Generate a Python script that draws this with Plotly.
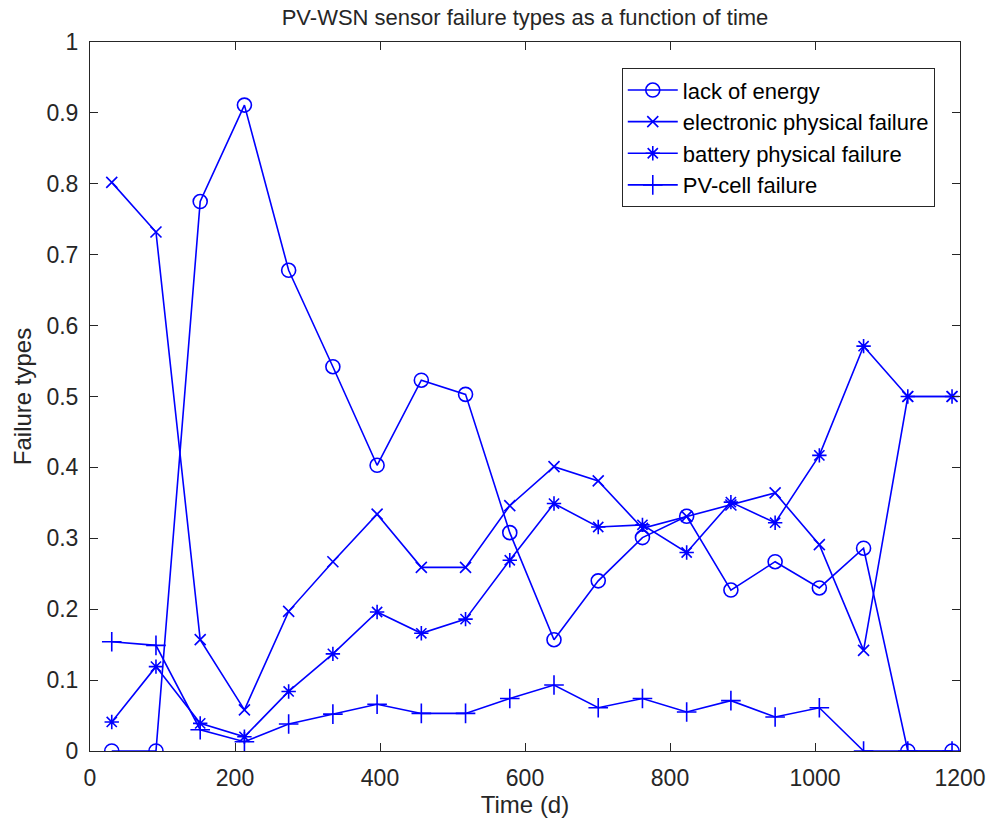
import plotly.graph_objects as go

time_d = [30, 91, 152, 213, 274, 335, 396, 457, 518, 579, 640, 701, 762, 823, 884, 945, 1006, 1067, 1128, 1189]

lack_of_energy = [0, 0, 0.775, 0.911, 0.678, 0.542, 0.403, 0.523, 0.503, 0.308, 0.157, 0.240, 0.301, 0.331, 0.227, 0.267, 0.230, 0.286, 0, 0]
electronic_failure = [0.802, 0.732, 0.157, 0.058, 0.197, 0.267, 0.334, 0.259, 0.259, 0.346, 0.401, 0.381, 0.314, 0.331, 0.347, 0.364, 0.291, 0.142, 0.5, 0.5]
battery_failure = [0.041, 0.119, 0.039, 0.020, 0.084, 0.137, 0.196, 0.166, 0.186, 0.269, 0.349, 0.316, 0.319, 0.280, 0.351, 0.322, 0.417, 0.571, 0.5, 0.5]
pv_cell_failure = [0.154, 0.149, 0.030, 0.013, 0.038, 0.052, 0.066, 0.053, 0.053, 0.074, 0.093, 0.061, 0.074, 0.055, 0.071, 0.048, 0.061, 0, 0, 0]

x_ticks = [0, 200, 400, 600, 800, 1000, 1200]
y_ticks = [0, 0.1, 0.2, 0.3, 0.4, 0.5, 0.6, 0.7, 0.8, 0.9, 1]
y_tick_labels = ["0", "0.1", "0.2", "0.3", "0.4", "0.5", "0.6", "0.7", "0.8", "0.9", "1"]

series = [
    ("lack of energy", lack_of_energy, "circle-open", 14),
    ("electronic physical failure", electronic_failure, "x-thin-open", 11),
    ("battery physical failure", battery_failure, "asterisk-open", 12),
    ("PV-cell failure", pv_cell_failure, "cross-thin-open", 14),
]

FONT = "Liberation Sans, Arial, sans-serif"
BLUE = "#0000FF"
AX = "#262626"

fig = go.Figure()
for name, vals, sym, sz in series:
    fig.add_trace(go.Scatter(
        x=time_d, y=vals, name=name, mode="lines+markers",
        line=dict(color=BLUE, width=1.6),
        marker=dict(symbol=sym, size=sz, color=BLUE, line=dict(color=BLUE, width=1.6)),
    ))

axis_common = dict(
    showline=True, linecolor=AX, linewidth=1, mirror="ticks", automargin=False,
    ticks="inside", ticklen=8, tickcolor=AX, showgrid=False, zeroline=False,
    tickfont=dict(family=FONT, size=23, color=AX),
    title_font=dict(family=FONT, size=24, color=AX),
)

fig.update_layout(
    width=991, height=825,
    paper_bgcolor="white", plot_bgcolor="white",
    margin=dict(l=90, r=31, t=42, b=74),
    title=dict(text="PV-WSN sensor failure types as a function of time",
               x=0.5, xanchor="center", xref="paper", y=0.988, yanchor="top",
               pad=dict(t=0, b=0),
               font=dict(family=FONT, size=22, color=AX)),
    xaxis=dict(range=[0, 1200], tickvals=x_ticks, ticklabelstandoff=6,
               title=dict(text="Time (d)", standoff=5), **axis_common),
    yaxis=dict(range=[0, 1], tickvals=y_ticks, ticktext=y_tick_labels, ticklabelstandoff=6,
               title=dict(text="Failure types", standoff=8), **axis_common),
    legend=dict(x=0.971, y=0.963, xanchor="right", yanchor="top",
                bgcolor="white", bordercolor=AX, borderwidth=1,
                font=dict(family=FONT, size=22, color="#000000"),
                tracegroupgap=0, itemwidth=50),
    showlegend=True,
    hovermode=False,
)

page_fix = (
    "document.documentElement.style.overflow='hidden';"
    "document.body.style.margin='0';"
    "document.body.style.overflow='hidden';"
)

fig.write_html("out.html", post_script=page_fix, config={"displayModeBar": False, "staticPlot": True})
